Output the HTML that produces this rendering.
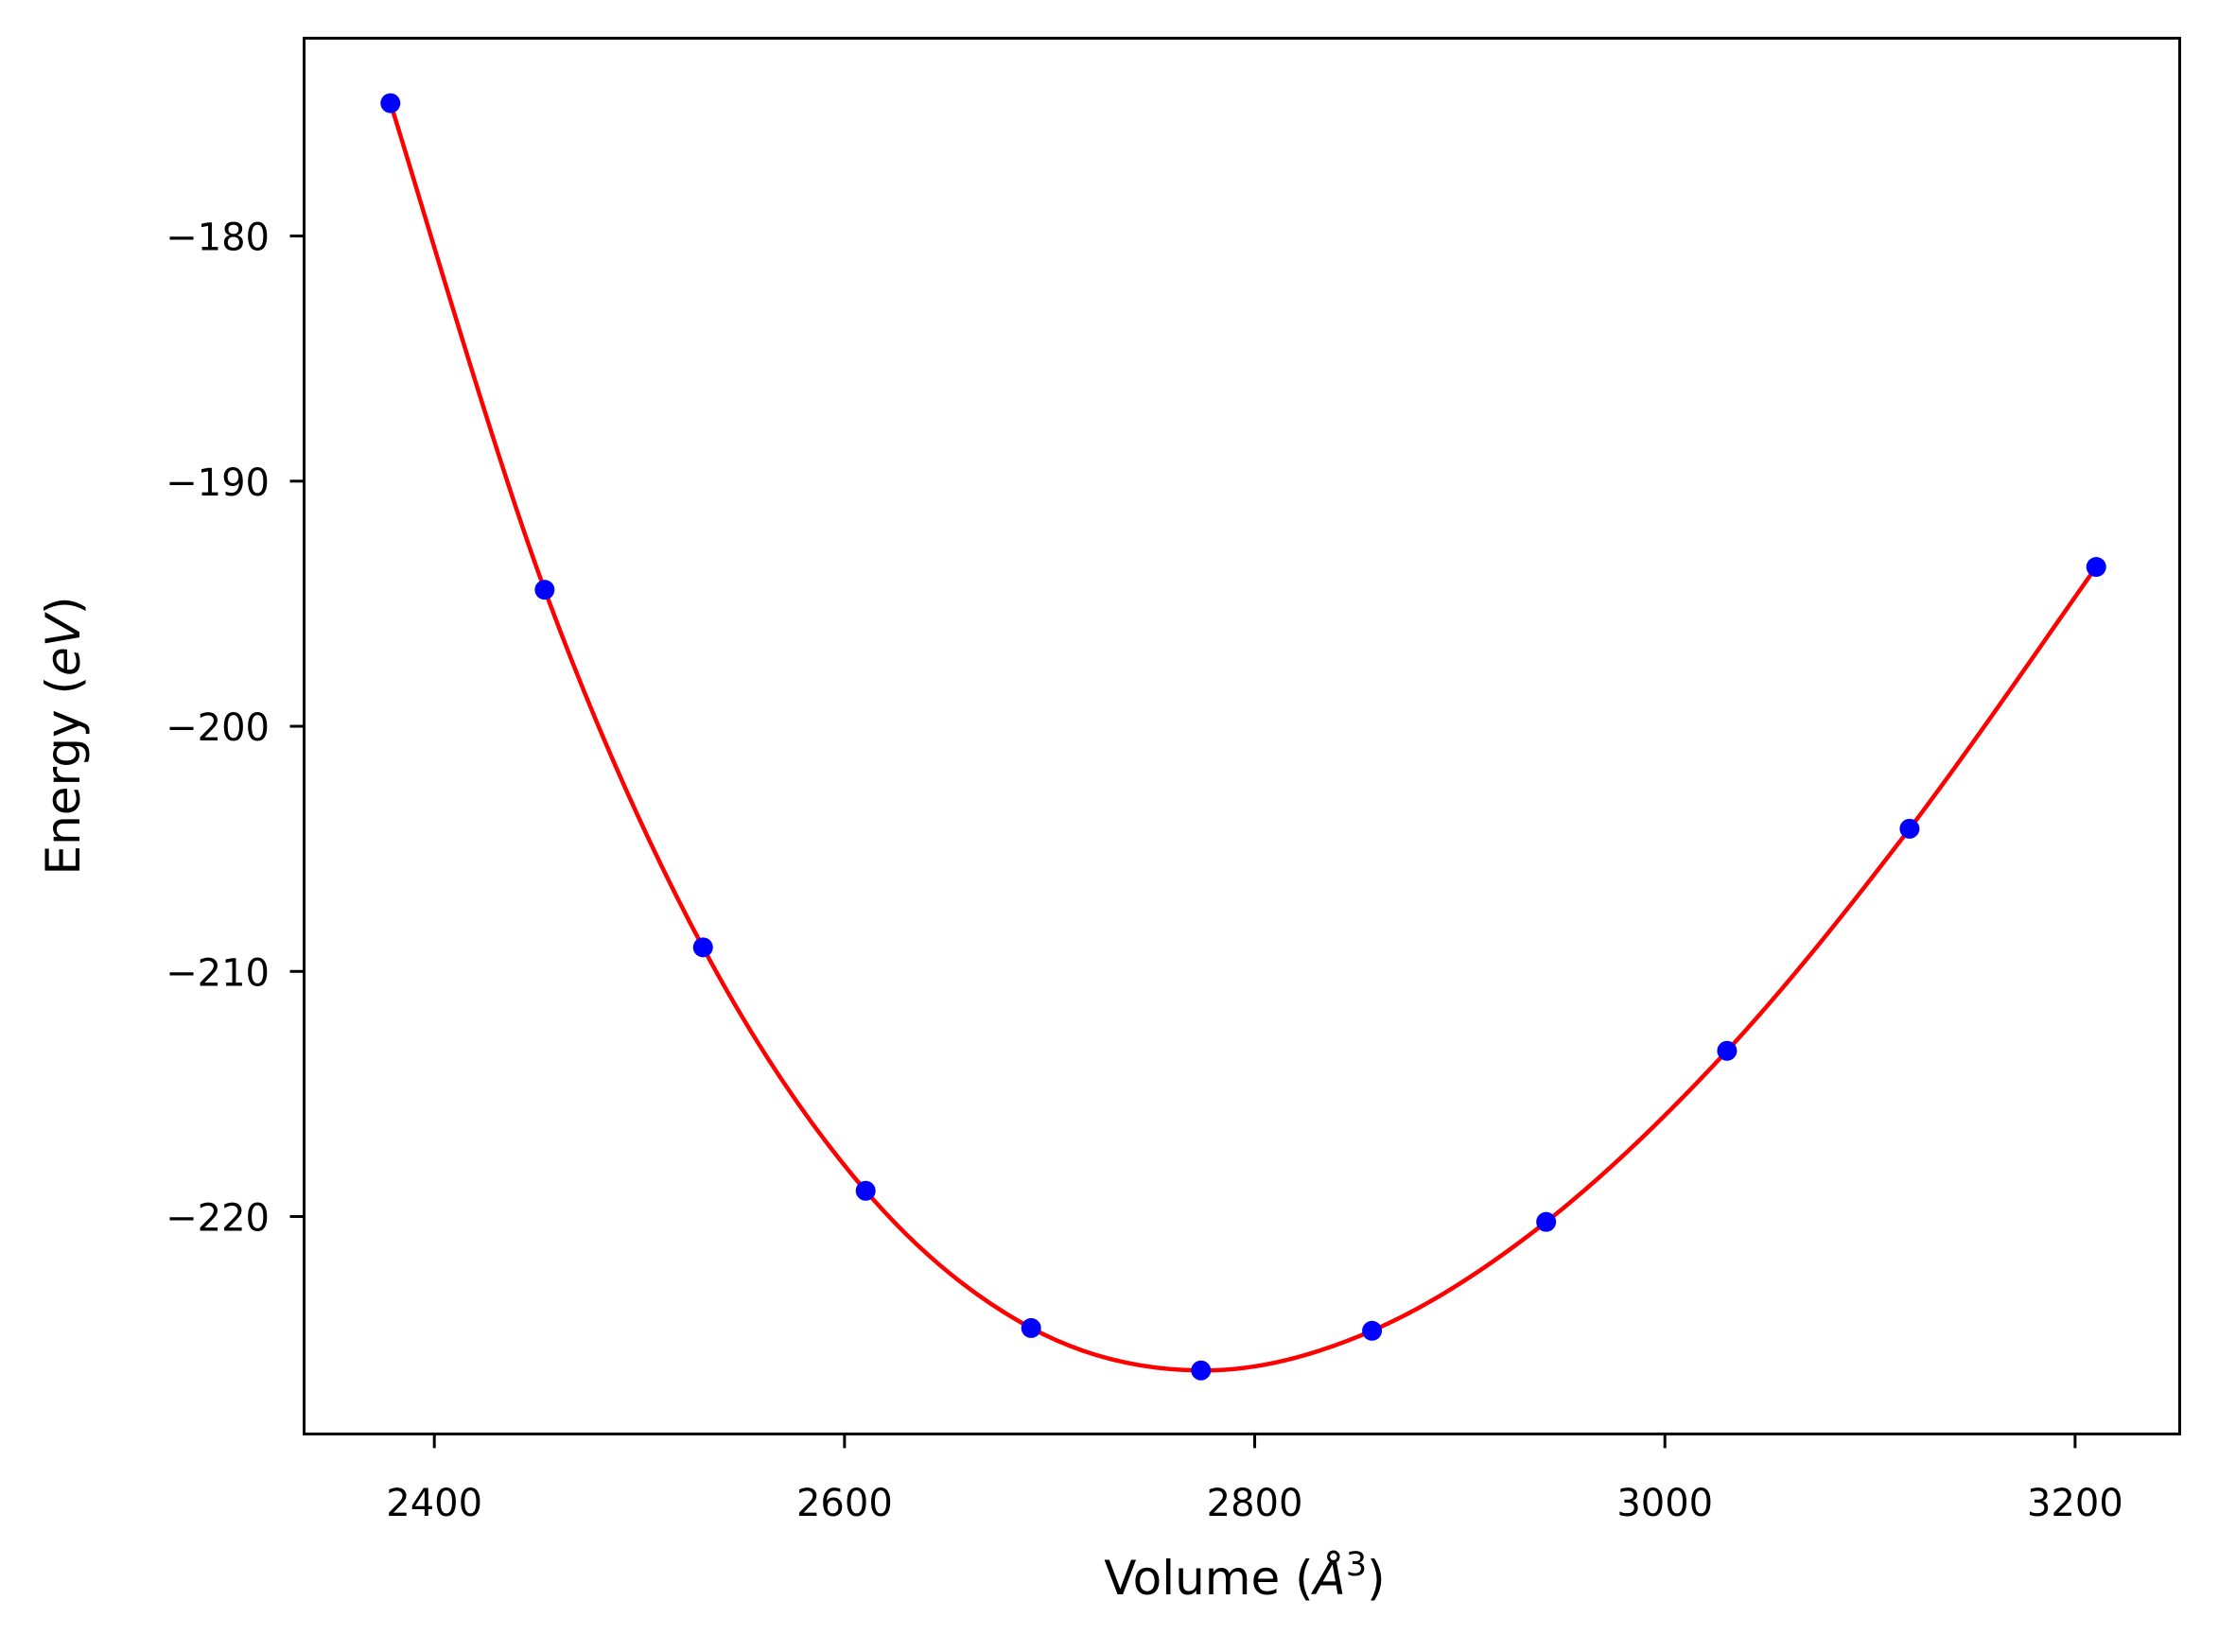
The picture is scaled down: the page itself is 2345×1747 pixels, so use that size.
<!DOCTYPE html>
<html><head><meta charset="utf-8"><style>
html,body{margin:0;padding:0;background:#fff;}
svg{display:block;font-family:"DejaVu Sans","Liberation Sans",sans-serif;}
</style></head><body>
<svg id="chart" width="2345" height="1747" viewBox="0 0 2345 1747" xmlns="http://www.w3.org/2000/svg">
<rect width="2345" height="1747" fill="#fff"/>
<g id="fit"></g>
<g id="pts"></g>
<g id="axes"></g>
<text x="1316" y="1686" font-size="50" text-anchor="middle">Volume (<tspan font-style="italic">Å</tspan><tspan font-size="35" dy="-20">3</tspan><tspan dy="20">)</tspan></text>
<text x="0" y="0" font-size="50" text-anchor="middle" transform="translate(84,778) rotate(-90)">Energy (<tspan font-style="italic">eV</tspan>)</text>
</svg>
<script>
const volumes = [2378.6, 2453.8, 2531.0, 2610.3, 2691.0, 2773.8, 2857.2, 2942.1, 3030.3, 3119.3, 3210.3];
const energies = [-174.58, -194.43, -209.02, -218.95, -224.55, -226.28, -224.66, -220.22, -213.24, -204.18, -193.50];
const xTicks = [2400, 2600, 2800, 3000, 3200];
const yTicks = [-180, -190, -200, -210, -220];

const L=321.5,R=2304.5,T=40.4,B=1516.4;
const xMin=2336.5,xMax=3251.0,yMin=-228.87,yMax=-171.93;
const sx=v=>L+(v-xMin)/(xMax-xMin)*(R-L);
const sy=e=>B-(e-yMin)/(yMax-yMin)*(B-T);
const NS="http://www.w3.org/2000/svg";
const mk=(t,a)=>{const e=document.createElementNS(NS,t);for(const k in a)e.setAttribute(k,a[k]);return e;};

// curve: Catmull-Rom spline through the data points
const P=volumes.map((v,i)=>[sx(v),sy(energies[i])]);
let d=`M${P[0][0]},${P[0][1]}`;
for(let i=0;i<P.length-1;i++){
  const p0=P[Math.max(i-1,0)],p1=P[i],p2=P[i+1],p3=P[Math.min(i+2,P.length-1)];
  const c1=[p1[0]+(p2[0]-p0[0])/6,p1[1]+(p2[1]-p0[1])/6];
  const c2=[p2[0]-(p3[0]-p1[0])/6,p2[1]-(p3[1]-p1[1])/6];
  d+=` C${c1[0]},${c1[1]} ${c2[0]},${c2[1]} ${p2[0]},${p2[1]}`;
}
const curve=mk('path',{d:d,fill:'none',stroke:'#ff0000','stroke-width':4.5});


document.getElementById('fit').appendChild(curve);

volumes.forEach((v,i)=>{
  const c=mk('circle',{cx:sx(v),cy:sy(energies[i]),r:10.5,fill:'#0000ff'});
  
  
  document.getElementById('pts').appendChild(c);
});

const ax=document.getElementById('axes');
const frame=mk('rect',{x:L,y:T,width:R-L,height:B-T,fill:'none',stroke:'#000','stroke-width':3});


ax.appendChild(frame);
xTicks.forEach(v=>{
  const x=sx(v);
  const l=mk('line',{x1:x,x2:x,y1:B,y2:B+15,stroke:'#000','stroke-width':3});
  
  
  ax.appendChild(l);
  const t=mk('text',{x:x,y:1603,'font-size':40,'text-anchor':'middle'});
  t.textContent=String(v);
  
  
  ax.appendChild(t);
});
yTicks.forEach(v=>{
  const y=sy(v);
  const l=mk('line',{x1:L-15,x2:L,y1:y,y2:y,stroke:'#000','stroke-width':3});
  
  
  ax.appendChild(l);
  const t=mk('text',{x:285,y:y+15,'font-size':40,'text-anchor':'end'});
  t.textContent=String(v).replace('-','\u2212');
  
  
  ax.appendChild(t);
});
</script>
</body></html>
